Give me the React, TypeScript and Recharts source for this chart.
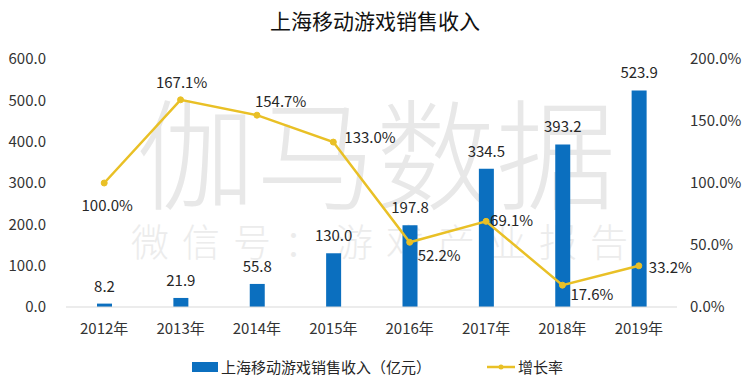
import React from 'react'
import {
	ComposedChart,
	Bar,
	Line,
	XAxis,
	YAxis,
	LabelList,
} from 'recharts'

const YEARS = ['2012年', '2013年', '2014年', '2015年', '2016年', '2017年', '2018年', '2019年']
const REVENUE = [8.2, 21.9, 55.8, 130.0, 197.8, 334.5, 393.2, 523.9]
const GROWTH = [100.0, 167.1, 154.7, 133.0, 52.2, 69.1, 17.6, 33.2]
const LEFT_TICKS = [0, 100, 200, 300, 400, 500, 600]
const RIGHT_TICKS = [0, 50, 100, 150, 200]

const BAR_NAME = '上海移动游戏销售收入（亿元）'
const LINE_NAME = '增长率'

const BLUE = '#0b6fbf'
const GOLD = '#e9c026'
const FONT = '"Noto Sans CJK SC", "Noto Sans", sans-serif'

// where each growth label sits relative to its point
const GROWTH_LABEL_OFFSETS: { dx: number; dy: number; anchor: 'start' | 'middle' }[] = [
	{ dx: 3, dy: 21, anchor: 'middle' },
	{ dx: 1, dy: -18, anchor: 'middle' },
	{ dx: -2, dy: -15, anchor: 'start' },
	{ dx: 11, dy: -6, anchor: 'start' },
	{ dx: 8, dy: 12, anchor: 'start' },
	{ dx: 4, dy: -2, anchor: 'start' },
	{ dx: 8, dy: 8, anchor: 'start' },
	{ dx: 10, dy: 1, anchor: 'start' },
]

const data = YEARS.map((year, i) => ({ year, revenue: REVENUE[i], growth: GROWTH[i] }))

const renderGrowthLabel = (props: any) => {
	const { x, y, index, value } = props
	const o = GROWTH_LABEL_OFFSETS[index]
	return (
		<text
			x={x + o.dx}
			y={y + o.dy}
			textAnchor={o.anchor}
			dominantBaseline="central"
			fontSize={15}
			fontFamily={FONT}
			fill="#262626"
		>
			{`${Number(value).toFixed(1)}%`}
		</text>
	)
}

const tickStyle = { fontSize: 15, fill: '#333', fontFamily: FONT }

const App = () => {
	return (
		<div style={{ position: 'absolute', left: 0, top: 0, width: 750, height: 386, background: '#fff', fontFamily: FONT }}>
			{/* watermark */}
			<div style={{ position: 'absolute', left: 136, top: 89, fontSize: 120, color: '#e8e8e8', whiteSpace: 'nowrap', lineHeight: 1, fontWeight: 300 }}>
				伽马数据
			</div>
			<div style={{ position: 'absolute', left: 131, top: 221, fontSize: 38, color: '#ececec', letterSpacing: 13, whiteSpace: 'nowrap', lineHeight: 1, fontWeight: 300 }}>
				微信号：游戏产业报告
			</div>

			<div style={{ position: 'absolute', left: 0, top: 5, width: 750, textAlign: 'center', fontSize: 21, color: '#111' }}>
				上海移动游戏销售收入
			</div>

			<div style={{ position: 'absolute', left: 0, top: 0 }}>
				<ComposedChart
					width={750}
					height={386}
					data={data}
					margin={{ top: 59, right: 0, bottom: 49, left: 0 }}
				>
					<XAxis
						dataKey="year"
						height={30}
						tick={tickStyle}
						tickLine={false}
						axisLine={{ stroke: '#d9d9d9' }}
						tickMargin={10}
						interval={0}
					/>
					<YAxis
						yAxisId="left"
						width={66}
						domain={[0, 600]}
						ticks={LEFT_TICKS}
						tickFormatter={(v: number) => v.toFixed(1)}
						tick={tickStyle}
						tickLine={false}
						axisLine={false}
						tickMargin={14}
					/>
					<YAxis
						yAxisId="right"
						orientation="right"
						width={73}
						domain={[0, 200]}
						ticks={RIGHT_TICKS}
						tickFormatter={(v: number) => `${v.toFixed(1)}%`}
						tick={{ ...tickStyle, textAnchor: 'start' }}
						tickLine={false}
						axisLine={false}
						tickMargin={7}
					/>
					<Bar yAxisId="left" dataKey="revenue" name={BAR_NAME} fill={BLUE} barSize={15} isAnimationActive={false}>
						<LabelList
							dataKey="revenue"
							position="top"
							offset={12}
							formatter={(v: any) => Number(v).toFixed(1)}
							style={{ fontSize: 15, fill: '#262626', fontFamily: FONT }}
						/>
					</Bar>
					<Line
						yAxisId="right"
						dataKey="growth"
						name={LINE_NAME}
						stroke={GOLD}
						strokeWidth={2.5}
						dot={{ r: 3, fill: GOLD, stroke: GOLD, strokeWidth: 1 }}
						isAnimationActive={false}
					>
						<LabelList dataKey="growth" content={renderGrowthLabel} />
					</Line>
				</ComposedChart>
			</div>

			{/* legend */}
			<div style={{ position: 'absolute', left: 192, top: 356, display: 'flex', alignItems: 'center', fontSize: 15, color: '#262626', whiteSpace: 'nowrap' }}>
				<span style={{ display: 'inline-block', width: 26, height: 10, background: BLUE, marginRight: 3 }} />
				<span>{BAR_NAME}</span>
				<svg width={28} height={10} style={{ marginLeft: 56, marginRight: 3 }}>
					<line x1={0} y1={5} x2={28} y2={5} stroke={GOLD} strokeWidth={2.5} />
					<circle cx={14} cy={5} r={2.5} fill={GOLD} />
				</svg>
				<span>{LINE_NAME}</span>
			</div>
		</div>
	)
}

export default App
